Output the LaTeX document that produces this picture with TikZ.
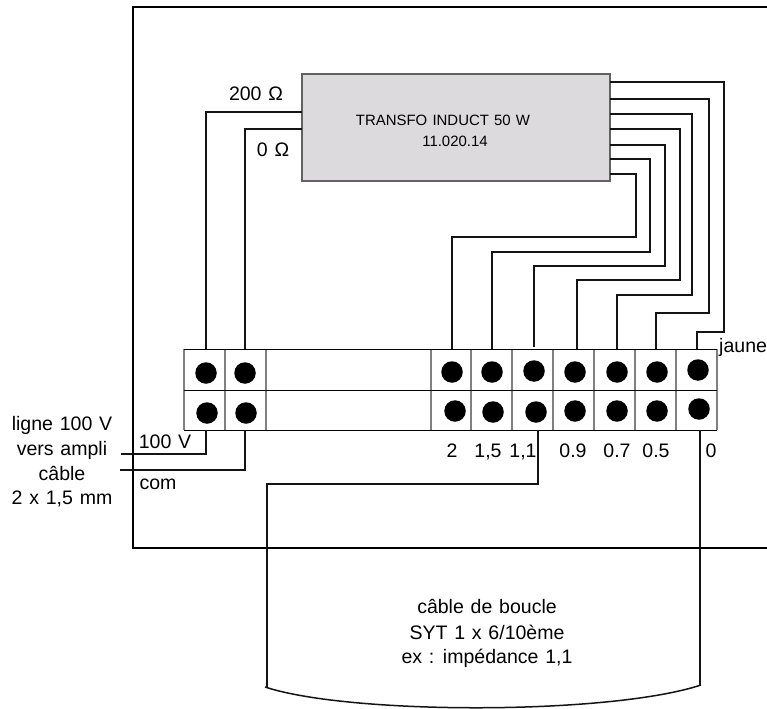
\documentclass[tikz,border=0pt]{standalone}
\usepackage{fontspec}
\setmainfont[WordSpace=1.25]{Liberation Sans}
\definecolor{transfogray}{HTML}{DCDADD}
\begin{document}
\begin{tikzpicture}[x=1bp,y=-1bp,
  wire/.style={draw=black!92,line width=1.5bp,line join=miter},
  frameline/.style={draw=black,line width=1.7bp},
  grid/.style={draw=black!50,line width=1.2bp},
  rowline/.style={draw=black,line width=1bp},
  pin/.style={circle,fill=black,minimum size=21.5bp,inner sep=0pt,outer sep=0pt},
  lab/.style={inner sep=0pt,anchor=base,font=\fontsize{19.6}{22}\selectfont},
  lab15/.style={inner sep=0pt,anchor=base,font=\fontsize{15}{17}\selectfont},
  transfo/.style={draw=black!62,fill=transfogray,line width=1.3bp,inner sep=0pt,outer sep=0pt}
]
\useasboundingbox (0,0) rectangle (767,709);
\clip (0,0) rectangle (767,709);
\fill[white] (0,0) rectangle (767,709);
% frame
\draw[frameline] (767,7) -- (133,7) -- (133,548) -- (767,548);
% transformer
\node[transfo,minimum width=308bp,minimum height=107bp,anchor=north west] (tr) at (302,74) {};
\node[lab15] (title) at (443,126) {TRANSFO INDUCT 50 W};
\node[lab15] (ref) at (455,147) {11.020.14};
% terminal block
\fill[white] (184,349) rectangle (717,430);
\foreach \x in {184,225,266,431,471,512,553,594,635,676,717}
  \draw[grid] (\x,349) -- (\x,430);
\draw[rowline] (184,349) -- (717,349) (184,390) -- (717,390) (184,430) -- (717,430);
% pins
\node[pin] (a1) at (206,373) {};
\node[pin] (a2) at (245,373) {};
\node[pin] (b1) at (207,413) {};
\node[pin] (b2) at (246,413) {};
\node[pin] (u2) at (452,372) {};
\node[pin] (u15) at (492,372) {};
\node[pin] (u11) at (534,371) {};
\node[pin] (u09) at (575,372) {};
\node[pin] (u07) at (617,372) {};
\node[pin] (u05) at (657,372) {};
\node[pin] (u0) at (698,370) {};
\node[pin] (d2) at (455,411) {};
\node[pin] (d15) at (493,412) {};
\node[pin] (d11) at (536,412) {};
\node[pin] (d09) at (575,411) {};
\node[pin] (d07) at (617,411) {};
\node[pin] (d05) at (657,411) {};
\node[pin] (d0) at (699,409) {};
% anchors on the transformer
\coordinate (tA) at (302,112);
\coordinate (tB) at (302,129);
\coordinate (t1) at (610,82);
\coordinate (t2) at (610,99);
\coordinate (t3) at (610,114);
\coordinate (t4) at (610,129);
\coordinate (t5) at (610,145);
\coordinate (t6) at (610,159);
\coordinate (t7) at (610,174);
% free ends
\coordinate (in1) at (121,454);
\coordinate (in2) at (120,470);
% transformer wires
\draw[wire] (tA) -- (206,112) -- (206,349);
\draw[wire] (tB) -- (245,129) -- (245,349);
\draw[wire] (t7) -- (636,174) -- (636,237) -- (452,237) -- (452,349);
\draw[wire] (t6) -- (650,159) -- (650,252) -- (492,252) -- (492,349);
\draw[wire] (t5) -- (665,145) -- (665,266) -- (534,266) -- (534,347);
\draw[wire] (t4) -- (680,129) -- (680,280) -- (577,280) -- (577,349);
\draw[wire] (t3) -- (692,114) -- (692,295) -- (617,295) -- (617,349);
\draw[wire] (t2) -- (709,99) -- (709,313) -- (656,313) -- (656,349);
\draw[wire] (t1) -- (724,82) -- (724,332) -- (697,332) -- (697,349);
% line input
\draw[wire] (206,430) -- (206,454) -- (in1);
\draw[wire] (245,430) -- (245,470) -- (in2);
% loop cable
\draw[wire] (538,430) -- (538,484) -- (267,484) -- (267,687);
\draw[wire] (700,430) -- (700,685);
\draw[wire] (265,687) .. controls (350,715) and (610,715) .. (701,685);
% labels
\node[lab] (l200) at (256,101) {200 Ω};
\node[lab] (l0) at (273,156) {0 Ω};
\node[lab,anchor=base west] (ljaune) at (719,352) {jaune};
\node[lab] (n2) at (452,457) {2};
\node[lab] (n15) at (488,457) {1,5};
\node[lab] (n11) at (523,457) {1,1};
\node[lab] (n09) at (573,457) {0.9};
\node[lab] (n07) at (617,457) {0.7};
\node[lab] (n05) at (656,457) {0.5};
\node[lab] (n0) at (711,457) {0};
\node[lab] (li1) at (62,430) {ligne 100 V};
\node[lab] (li2) at (62,455) {vers ampli};
\node[lab] (li3) at (62,480) {câble};
\node[lab] (li4) at (62,504) {2 x 1,5 mm};
\node[lab] (l100) at (165,448) {100 V};
\node[lab] (lcom) at (158,489) {com};
\node[lab] (c1) at (487,613) {câble de boucle};
\node[lab] (c2) at (487,639) {SYT 1 x 6/10ème};
\node[lab] (c3) at (487,663) {ex : impédance 1,1};
\end{tikzpicture}
\end{document}
